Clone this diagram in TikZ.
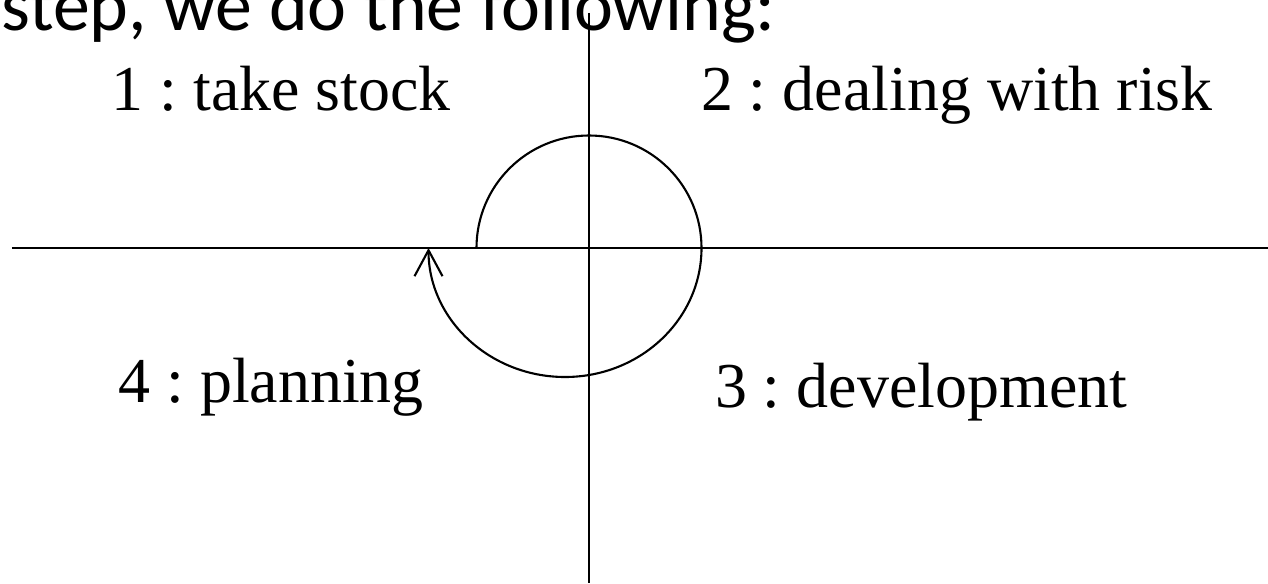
\documentclass[tikz,border=0pt]{standalone}
\usepackage{fontspec}
\setmainfont{Liberation Serif}
\newfontfamily\slidefont{Carlito}
\usetikzlibrary{arrows.meta}
\frenchspacing

\begin{document}
\begin{tikzpicture}[line width=0.6pt,
    phase/.style={font=\fontsize{18.2}{21}\selectfont, inner sep=0pt}]
    \clip (-5.89,-3.35) rectangle (6.79,2.48);
    \node[anchor=base west, inner sep=0pt, font=\slidefont\fontsize{21}{24}\selectfont] (intro) at (-5.89,2.17) {step, we do the following:};
    % axes
    \coordinate (west) at (-5.77,0);
    \coordinate (east) at (6.79,0);
    \coordinate (north) at (0,2.35);
    \coordinate (south) at (0,-3.35);
    \draw (west) -- (east);
    \draw (north) -- (south);
    % the four phases
    \node[phase, anchor=base east] (stock) at (-1.37,1.37) {1 : take stock};
    \node[phase, anchor=base west] (risk) at (1.11,1.37) {2 : dealing with risk};
    \node[phase, anchor=base west] (develop) at (1.25,-1.59) {3 : development};
    \node[phase, anchor=base east] (plan) at (-1.64,-1.54) {4 : planning};
    % spiral
    \coordinate (start) at (-1.125,0);
    \draw[-{Straight Barb[length=0.26cm,width=0.28cm]}] (start)
        arc[start angle=180,end angle=0,radius=1.125]
        arc[start angle=0,end angle=-180,x radius=1.365,y radius=1.29];
\end{tikzpicture}
\end{document}
